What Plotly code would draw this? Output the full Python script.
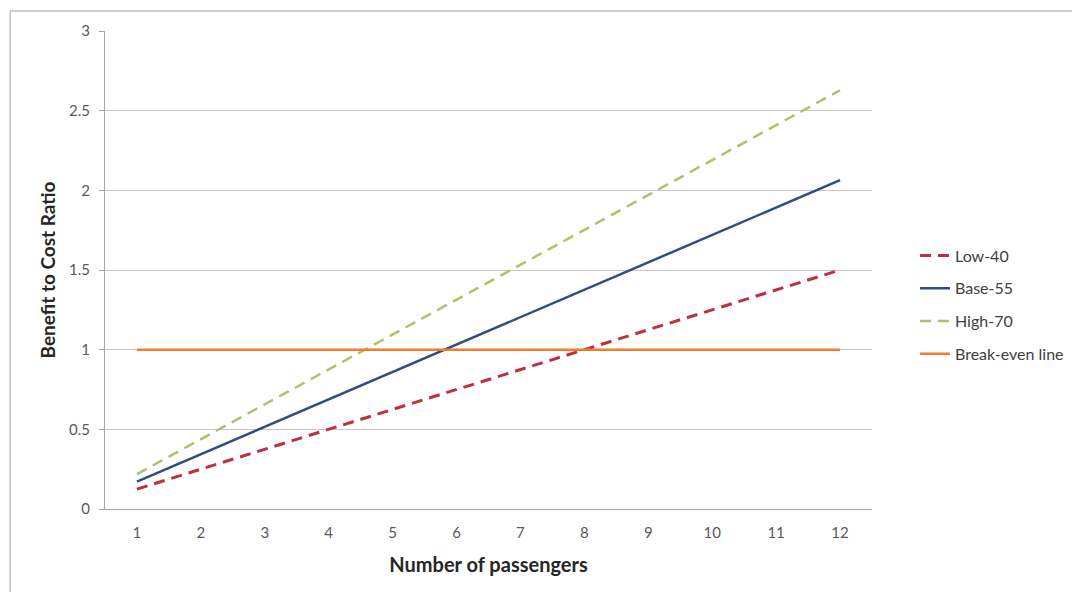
import plotly.graph_objects as go

passengers = [1, 2, 3, 4, 5, 6, 7, 8, 9, 10, 11, 12]
low_40 = [0.125, 0.25, 0.375, 0.5, 0.625, 0.75, 0.875, 1.0, 1.125, 1.25, 1.375, 1.5]
base_55 = [0.172, 0.344, 0.516, 0.688, 0.86, 1.032, 1.204, 1.376, 1.548, 1.72, 1.892, 2.064]
high_70 = [0.219, 0.438, 0.657, 0.876, 1.095, 1.314, 1.533, 1.752, 1.971, 2.19, 2.409, 2.628]
break_even = [1, 1, 1, 1, 1, 1, 1, 1, 1, 1, 1, 1]
y_ticks = [0, 0.5, 1, 1.5, 2, 2.5, 3]
y_tick_text = ["0", "0.5", "1", "1.5", "2", "2.5", "3"]

# page body has an 8px margin; figure coordinates are page - 8
W, H = 1072, 584
L, R, T, B = 97, 865, 23, 501

fig = go.Figure()
series = [
    ("Low-40", low_40, "#BE2F3F", "11px,7px", 3),
    ("Base-55", base_55, "#2F4E7E", "solid", 2.5),
    ("High-70", high_70, "#A9C46E", "11px,7px", 2.5),
    ("Break-even line", break_even, "#EE7D2C", "solid", 2.5),
]
for i, (name, vals, color, dash, w) in enumerate(series):
    fig.add_trace(go.Scatter(
        x=passengers, y=vals, name=name, mode="lines",
        line=dict(color=color, width=w, dash=dash),
        legendgroup=f"g{i}",
    ))

pw, ph = R - L, B - T
fig.add_shape(type="rect", xref="paper", yref="paper",
              x0=(2 - L) / pw, x1=(1100 - L) / pw,
              y0=(B - 620) / ph, y1=1 + (T - 3) / ph,
              line=dict(color="#A6A6A6", width=1), layer="below")

fig.update_layout(
    width=W, height=H,
    margin=dict(l=L, r=W - R, t=T, b=H - B),
    paper_bgcolor="white", plot_bgcolor="white",
    font=dict(family="Lato, 'Open Sans', sans-serif", color="#595959", size=15),
    showlegend=True,
    legend=dict(x=(907 - L) / pw, y=(B - 297) / ph, xanchor="left", yanchor="middle",
                font=dict(size=16, color="#404040"), tracegroupgap=9,
                bgcolor="rgba(0,0,0,0)"),
    xaxis=dict(
        range=[0.5, 12.5], tickmode="array", tickvals=passengers,
        ticktext=[str(p) for p in passengers],
        showgrid=False, showline=True, linecolor="#A6A6A6", linewidth=1,
        ticks="", zeroline=False, ticklabelstandoff=10,
        title=dict(text="<b>Number of passengers</b>", font=dict(size=20, color="#262626"), standoff=17),
    ),
    yaxis=dict(
        range=[0, 3], tickmode="array", tickvals=y_ticks, ticktext=y_tick_text,
        showgrid=True, gridcolor="#C8C8C8", gridwidth=1,
        showline=True, linecolor="#A6A6A6", linewidth=1,
        ticks="outside", ticklen=5, tickcolor="#A6A6A6", ticklabelstandoff=6,
        zeroline=False,
        title=dict(text="<b>Benefit to Cost Ratio</b>", font=dict(size=19, color="#262626"), standoff=8),
    ),
)

fig.write_html("out.html")
